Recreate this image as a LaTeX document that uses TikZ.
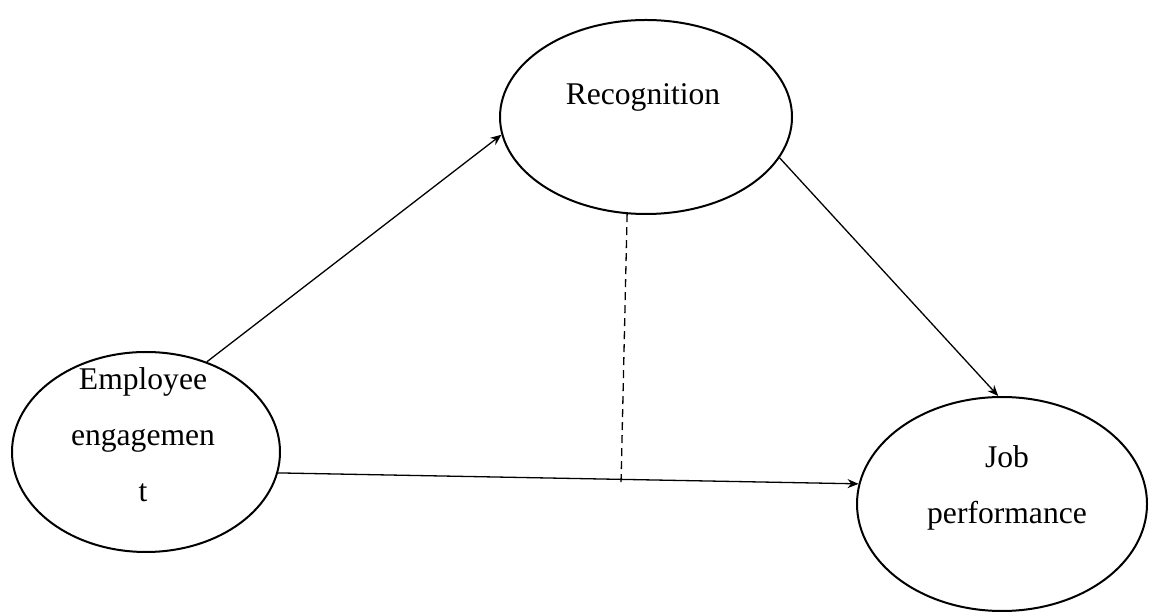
\documentclass[tikz,border=0pt]{standalone}
\usepackage{fontspec}
\setmainfont{Liberation Serif}
\usetikzlibrary{arrows.meta,shapes.geometric}
\begin{document}
\begin{tikzpicture}[x=0.5pt,y=-0.5pt,
  oval/.style={draw,ellipse,line width=1pt,inner sep=0pt},
  lbl/.style={font=\fontsize{15.8}{28}\selectfont,align=center,inner sep=0pt},
  conn/.style={line width=0.65pt,-{Stealth[length=5.5pt,width=4.5pt]}}]
\useasboundingbox (0,0) rectangle (1149,613);
\node[oval,minimum width=146pt,minimum height=97pt] (rec) at (646,117) {};
\node[oval,minimum width=134pt,minimum height=100pt] (emp) at (146,452) {};
\node[oval,minimum width=145pt,minimum height=107pt] (job) at (1002,504) {};
\node[lbl] (rect) at (643,97) {Recognition};
\node[lbl] (empt) at (143,435) {Employee\\engagemen\\t};
\node[lbl] (jobt) at (1007,488) {Job\\performance};
\coordinate (dend) at (621,484);
\draw[conn] (emp.56) -- (rec.187);
\draw[conn] (rec.-17) -- (job.92);
\draw[conn] (emp.-9) -- (job.172);
\draw[line width=0.65pt,dash pattern=on 4pt off 2.5pt] (rec.-101) -- (dend);
\end{tikzpicture}
\end{document}
